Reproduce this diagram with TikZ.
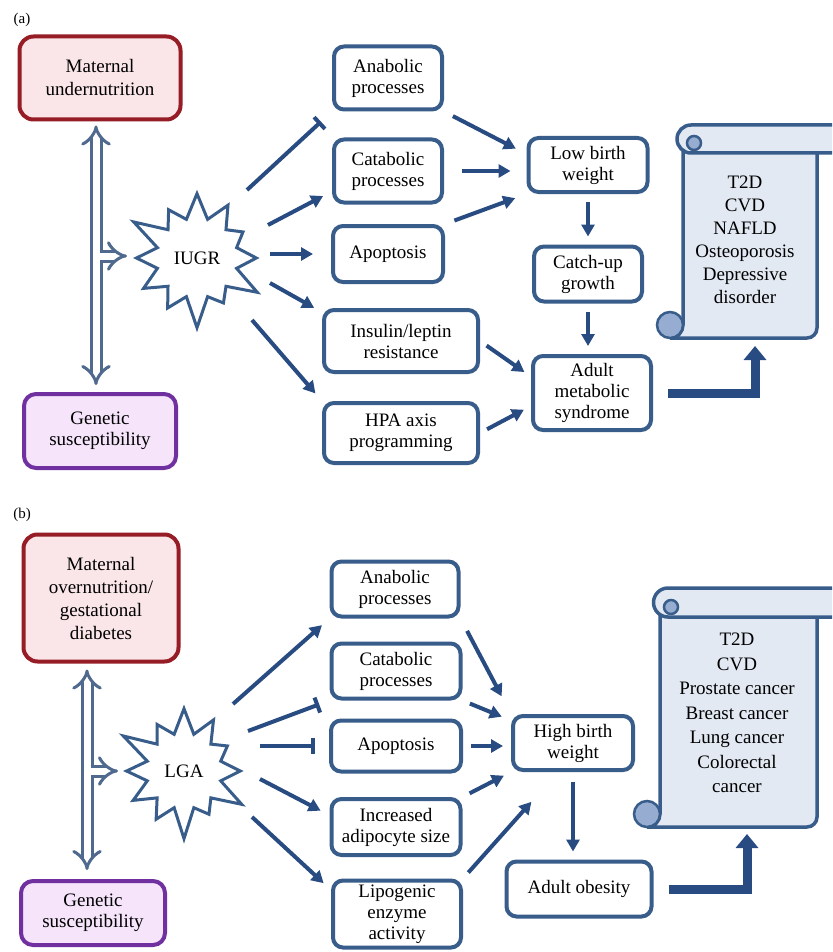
\documentclass[tikz,border=0pt]{standalone}
\usepackage{fontspec}
\setmainfont{Liberation Serif}
\usetikzlibrary{arrows.meta,shapes.symbols}
\definecolor{boxblue}{RGB}{56,93,138}
\definecolor{arrowblue}{RGB}{40,75,130}
\definecolor{hollowblue}{RGB}{80,105,142}
\definecolor{matred}{RGB}{150,28,38}
\definecolor{matfill}{RGB}{250,230,233}
\definecolor{genpurple}{RGB}{112,48,160}
\definecolor{genfill}{RGB}{245,228,250}
\definecolor{scrollfill}{RGB}{226,233,243}
\definecolor{curlfill}{RGB}{150,172,208}
\begin{document}
\begin{tikzpicture}[x=1pt, y=-1pt,
    every node/.style={font=\fontsize{19}{21}\selectfont, align=center},
    procbox/.style={draw=boxblue, line width=4pt, rounded corners=10pt, fill=white, inner sep=2pt},
    matbox/.style={draw=matred, fill=matfill, line width=4pt, rounded corners=14pt, inner sep=2pt,
        font=\fontsize{19}{23}\selectfont},
    genbox/.style={draw=genpurple, fill=genfill, line width=4pt, rounded corners=12pt, inner sep=2pt},
    burst/.style={starburst, draw=boxblue, fill=white, line width=3pt, starburst points=12,
        starburst point height=34pt, inner sep=1pt, minimum width=150pt, minimum height=148pt},
    arr/.style={draw=arrowblue, line width=4pt, -{Triangle[length=12pt,width=13pt]}},
    inh/.style={draw=arrowblue, line width=4pt, -{Bar[width=16pt]}},
    hollow/.style={draw=hollowblue, line width=3pt, double=white, double distance=7pt},
    bent/.style={draw=arrowblue, line width=9pt, -{Triangle[length=14pt,width=22pt]}},
    scroll/.style={draw=boxblue, line width=3.5pt, fill=scrollfill},
    curl/.style={draw=boxblue, line width=2.5pt, fill=curlfill},
    panel/.style={font=\fontsize{15}{17}\selectfont}
]
\useasboundingbox (0,0) rectangle (832,952);
\clip (0,0) rectangle (832,952);
\fill[white] (0,0) rectangle (832,952);

% panel (a)
\node[panel] (la) at (22,20) {(a)};
\node[matbox, minimum width=161pt, minimum height=83pt] (mua) at (100,78) {Maternal\\undernutrition};
\node[genbox, minimum width=152pt, minimum height=74pt] (gsa) at (100,431) {Genetic\\susceptibility};
\node[burst] (iugr) at (197,258) {IUGR};

\node[procbox, minimum width=108pt, minimum height=63pt] (anaa) at (388,78) {Anabolic\\processes};
\node[procbox, minimum width=108pt, minimum height=63pt] (cata) at (388,171) {Catabolic\\processes};
\node[procbox, minimum width=110pt, minimum height=56pt] (apoa) at (388,254) {Apoptosis};
\node[procbox, minimum width=154pt, minimum height=62pt] (insa) at (401,341) {Insulin/leptin\\resistance};
\node[procbox, minimum width=154pt, minimum height=60pt] (hpaa) at (401,433) {HPA axis\\programming};

\node[procbox, minimum width=119pt, minimum height=54pt] (lbwa) at (588,165) {Low birth\\weight};
\node[procbox, minimum width=108pt, minimum height=55pt] (cua) at (588,274) {Catch-up\\growth};
\node[procbox, minimum width=118pt, minimum height=74pt] (amsa) at (592,393) {Adult\\metabolic\\syndrome};

\coordinate (ja) at (96,256);
\draw[hollow, {Implies}-{Implies}, shorten <=4pt, shorten >=7pt] (mua.south -| ja) -- (gsa.north -| ja);
\draw[hollow, -{Implies}] ([xshift=3.5pt]ja) -- ([shift={(-70,-2)}]iugr.center);

\draw[inh, shorten >=15pt] ([shift={(50,-68)}]iugr.center) -- (anaa.south west);
\draw[arr, shorten >=10pt] ([shift={(71,-33)}]iugr.center) -- (cata.200);
\draw[arr, shorten >=18pt] ([shift={(73,-4)}]iugr.center) -- (apoa.west);
\draw[arr, shorten >=9pt] ([shift={(73,25)}]iugr.center) -- (insa.160);
\draw[arr, shorten >=10pt] ([shift={(55,62)}]iugr.center) -- (hpaa.north west);

\draw[arr, shorten <=10pt, shorten >=12pt] (anaa.south east) -- (lbwa.170);
\draw[arr, shorten <=18pt, shorten >=16pt] (cata.east) -- (cata.east -| lbwa.west);
\draw[arr, shorten <=10pt, shorten >=12pt] (apoa.north east) -- (lbwa.south west);
\draw[arr, shorten <=8pt, shorten >=8pt] (lbwa) -- (cua);
\draw[arr, shorten <=8pt, shorten >=8pt] (cua.south) -- (cua.south |- amsa.north);
\draw[arr, shorten <=8pt, shorten >=8pt] (insa.east) -- (amsa.165);
\draw[arr, shorten <=8pt, shorten >=8pt] (hpaa.east) -- (amsa.192);

% scroll (a)
\filldraw[scroll] (683,139) -- (683,325) arc[start angle=0, end angle=90, radius=13]
    -- (807,338) arc[start angle=90, end angle=0, radius=10] -- (817,139);
\filldraw[scroll] (850,125) -- (691,125) arc[start angle=-90, end angle=-270, radius=14] -- (850,153);
\filldraw[curl] (694,143) circle[radius=7];
\filldraw[curl] (670,325) circle[radius=13];
\node[font=\fontsize{19}{23}\selectfont] (dza) at (745,240)
    {T2D\\CVD\\NAFLD\\Osteoporosis\\Depressive\\disorder};
\coordinate (scra) at (755,338);
\draw[bent, shorten >=8pt] ([xshift=15pt]amsa.east) -| (scra);

% panel (b)
\node[panel] (lb) at (22,515) {(b)};
\node[matbox, minimum width=155pt, minimum height=127pt] (mob) at (101,598)
    {Maternal\\overnutrition/\\gestational\\diabetes};
\node[genbox, minimum width=144pt, minimum height=64pt] (gsb) at (93,913) {Genetic\\susceptibility};
\node[burst, minimum width=144pt, minimum height=144pt] (lga) at (184,771) {LGA};

\node[procbox, minimum width=127pt, minimum height=55pt] (anab) at (395,589) {Anabolic\\processes};
\node[procbox, minimum width=129pt, minimum height=55pt] (catb) at (396,671) {Catabolic\\processes};
\node[procbox, minimum width=130pt, minimum height=51pt] (apob) at (396,746) {Apoptosis};
\node[procbox, minimum width=129pt, minimum height=56pt] (incb) at (396,827) {Increased\\adipocyte size};
\node[procbox, minimum width=128pt, minimum height=67pt] (lipb) at (397,914) {Lipogenic\\enzyme\\activity};

\node[procbox, minimum width=120pt, minimum height=54pt] (hbwb) at (573,743) {High birth\\weight};
\node[procbox, minimum width=145pt, minimum height=55pt] (aob) at (579,889) {Adult obesity};

\coordinate (jb) at (87,771);
\draw[hollow, {Implies}-{Implies}, shorten <=6pt, shorten >=9pt] (mob.south -| jb) -- (gsb.north -| jb);
\draw[hollow, -{Implies}] ([xshift=3.5pt]jb) -- ([xshift=-66pt]lga.center);

\draw[arr, shorten >=10pt] ([shift={(49,-67)}]lga.center) -- (anab.south west);
\draw[inh, shorten >=11pt] ([shift={(64,-40)}]lga.center) -- (catb.south west);
\draw[inh, shorten >=14pt] ([shift={(76,-25)}]lga.center) -- (apob.west);
\draw[arr, shorten >=10pt] ([shift={(76,8)}]lga.center) -- (incb.170);
\draw[arr, shorten >=10pt] ([shift={(68,46)}]lga.center) -- (lipb.160);

\draw[arr, shorten <=14pt, shorten >=20pt] (anab.south east) -- (hbwb.north west);
\draw[arr, shorten <=8pt, shorten >=10pt] (catb.south east) -- (hbwb.160);
\draw[arr, shorten <=8pt, shorten >=8pt] (apob.east) -- (apob.east -| hbwb.west);
\draw[arr, shorten <=8pt, shorten >=8pt] (incb.north east) -- (hbwb.south west);
\draw[arr, shorten <=8pt, shorten >=40pt] (lipb.north east) -- ([xshift=-15pt]hbwb.south);
\draw[arr, shorten <=10pt, shorten >=8pt] (hbwb.south) -- (hbwb.south |- aob.north);

% scroll (b)
\filldraw[scroll] (660,602) -- (660,814) arc[start angle=0, end angle=90, radius=13]
    -- (807,827) arc[start angle=90, end angle=0, radius=10] -- (817,602);
\filldraw[scroll] (850,588) -- (668,588) arc[start angle=-90, end angle=-270, radius=14.5] -- (850,617);
\filldraw[curl] (671,607) circle[radius=7];
\filldraw[curl] (647,814) circle[radius=13];
\node[font=\fontsize{19}{24.5}\selectfont] (dzb) at (737,713)
    {T2D\\CVD\\Prostate cancer\\Breast cancer\\Lung cancer\\Colorectal\\cancer};
\coordinate (scrb) at (747,827);
\draw[bent, shorten >=7pt] ([xshift=15pt]aob.east) -| (scrb);
\end{tikzpicture}
\end{document}
